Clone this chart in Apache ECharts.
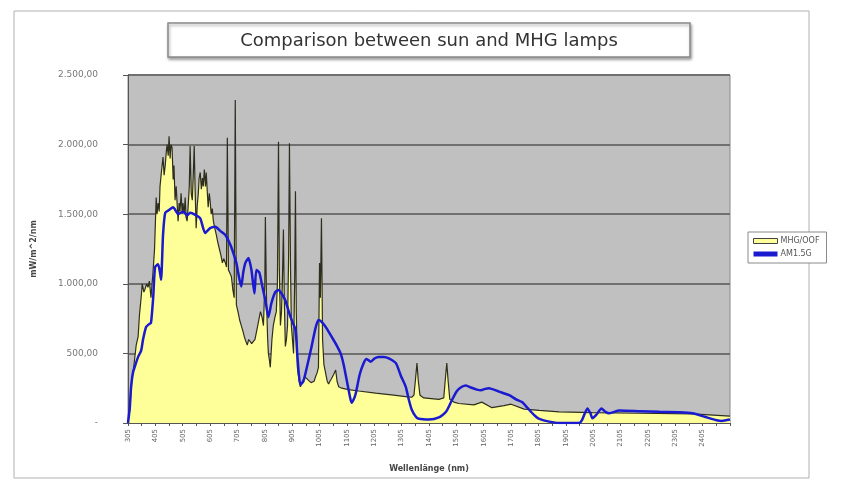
<!DOCTYPE html>
<html>
<head>
<meta charset="utf-8">
<script src="https://cdn.jsdelivr.net/npm/echarts@6/dist/echarts.min.js"></script>
<style>html,body{margin:0;padding:0;background:#fff;}#c{width:843px;height:484px;}</style>
</head>
<body>
<div id="c"></div>
<script>
const titleText = 'Comparison between sun and MHG lamps';
const xAxisName = 'Wellenlänge (nm)';
const yAxisName = 'mW/m^2/nm';
const seriesNames = ['MHG/OOF', 'AM1.5G'];
const xTickLabels = ['305','405','505','605','705','805','905','1005','1105','1205','1305','1405','1505','1605','1705','1805','1905','2005','2105','2205','2305','2405'];
const yTickLabels = ['-','500,00','1.000,00','1.500,00','2.000,00','2.500,00'];

// MHG lamp spectrum [wavelength nm, mW/m^2/nm]
const mhgData = [
[300,0],[307,100],[311,260],[322,420],[330,560],[337,620],[342,780],[348,900],[352,1000],[355,1010],[358,940],[362,960],
[368,1000],[373,975],[378,1020],[384,900],[388,1000],[392,1100],[397,1250],[403,1620],[406,1500],[410,1580],[414,1520],
[417,1700],[422,1800],[428,1910],[432,1780],[436,1850],[440,1950],[443,2000],[447,1920],[450,2060],[454,1900],[457,2000],
[461,1980],[465,1750],[468,1850],[472,1600],[476,1700],[480,1560],[483,1450],[487,1580],[490,1520],[494,1650],[498,1500],
[501,1580],[505,1500],[509,1620],[512,1480],[516,1450],[520,1560],[524,1700],[527,1990],[531,1650],[535,1600],[538,1750],
[542,1990],[545,1700],[549,1400],[553,1560],[557,1650],[560,1760],[564,1800],[568,1680],[572,1760],[575,1700],[579,1820],
[583,1700],[586,1800],[590,1650],[593,1550],[597,1650],[600,1600],[604,1500],[608,1540],[612,1450],[617,1400],[623,1350],
[628,1300],[634,1250],[640,1200],[645,1150],[650,1180],[656,1150],[660,1120],[663,2050],[667,1100],[672,1080],[678,1050],
[683,960],[688,900],[692,2320],[696,850],[703,790],[708,740],[714,700],[720,660],[725,620],[730,590],[736,560],[741,600],
[747,600],[752,570],[758,560],[764,600],[769,650],[776,720],[784,800],[790,760],[795,700],[800,1000],[802,1480],[806,900],
[810,620],[813,500],[817,450],[820,400],[826,600],[831,700],[837,760],[842,800],[846,1000],[850,2020],[853,1100],[857,700],
[861,800],[864,1000],[868,1390],[871,900],[875,550],[879,600],[883,700],[887,1200],[890,2010],[894,1100],[897,700],
[901,600],[905,500],[909,1000],[912,1665],[915,800],[919,400],[925,300],[930,260],[936,290],[941,300],[947,330],[952,340],
[958,310],[963,300],[969,290],[974,280],[980,300],[985,330],[991,360],[996,400],[1000,1150],[1003,900],[1007,1470],[1011,600],
[1016,420],[1022,360],[1028,300],[1033,280],[1038,300],[1044,320],[1052,350],[1059,380],[1064,300],[1070,260],[1081,250],[1106,240],
[1143,230],[1205,215],[1271,200],[1315,190],[1337,185],[1345,200],[1350,300],[1356,430],[1361,300],[1367,200],[1381,180],[1436,170],
[1454,180],[1459,300],[1465,430],[1470,300],[1476,170],[1491,150],[1509,140],[1564,130],[1593,150],[1630,110],[1674,125],[1700,135],
[1748,100],[1803,90],[1876,80],[1997,75],[2169,70],[2363,65],[2500,50]
];

// AM1.5G solar spectrum [wavelength nm, mW/m^2/nm]
const amData = [
[300,0],[307,120],[311,250],[318,360],[329,430],[337,475],[348,520],[355,600],[366,690],[377,710],
[384,720],[392,900],[399,1120],[410,1140],[417,1080],[421,1030],[428,1350],[436,1510],[450,1530],[465,1550],
[476,1520],[483,1500],[502,1520],[516,1490],[527,1510],[546,1495],[564,1470],[582,1365],[600,1400],[619,1410],
[637,1380],[656,1350],[674,1280],[685,1220],[696,1150],[703,1075],[714,980],[721,1080],[729,1150],[740,1185],
[751,1100],[762,930],[769,1100],[780,1080],[791,980],[802,880],[813,760],[824,860],[838,940],[850,955],
[861,930],[875,880],[894,760],[912,670],[919,480],[930,275],[941,300],[956,420],[971,550],[985,680],
[996,740],[1011,720],[1026,680],[1044,620],[1062,560],[1077,500],[1088,420],[1099,310],[1110,200],[1117,145],
[1125,170],[1132,210],[1147,350],[1161,430],[1172,460],[1187,440],[1202,465],[1216,475],[1235,475],[1253,465],
[1279,430],[1297,340],[1315,260],[1326,170],[1337,95],[1352,45],[1363,30],[1400,25],[1436,40],[1462,80],
[1484,165],[1502,230],[1520,260],[1535,270],[1553,255],[1575,240],[1590,235],[1605,245],[1619,250],[1656,225],
[1693,200],[1718,170],[1740,150],[1759,110],[1773,80],[1788,50],[1803,30],[1839,10],[1876,0],[1949,0],
[1960,25],[1979,105],[1990,70],[1997,35],[2012,60],[2030,105],[2045,80],[2059,70],[2096,90],[2169,85],
[2242,80],[2316,78],[2363,70],[2407,45],[2451,20],[2470,15],[2500,25]
];

const FONT = 'DejaVu Sans';
const chart = echarts.init(document.getElementById('c'));
chart.setOption({
  backgroundColor: '#ffffff',
  animation: false,
  graphic: [
    { type: 'rect', shape: { x: 14, y: 11, width: 795, height: 467 }, style: { fill: 'none', stroke: '#b0b0b0', lineWidth: 1 }, z: -1 },
    { type: 'rect', shape: { x: 168, y: 23, width: 522, height: 34 }, style: { fill: '#ffffff', stroke: '#8a8a8a', lineWidth: 1.5, shadowBlur: 3, shadowColor: 'rgba(0,0,0,0.35)', shadowOffsetX: 1, shadowOffsetY: 2 }, z: 10 },
    { type: 'text', x: 429, y: 41, style: { text: titleText, font: '18px "DejaVu Sans"', fill: '#333', textAlign: 'center', textVerticalAlign: 'middle' }, z: 11 }
  ],
  grid: { left: 128, right: 113, top: 75, bottom: 61, show: true, backgroundColor: '#c0c0c0', borderColor: '#888', borderWidth: 1 },
  legend: {
    orient: 'vertical', left: 748, top: 232,
    itemWidth: 24, itemHeight: 5, itemGap: 5,
    padding: [5, 7, 5, 5],
    borderColor: '#8a8a8a', borderWidth: 1, backgroundColor: '#fff',
    textStyle: { fontFamily: FONT, fontSize: 8, color: '#555', padding: [0, 0, 0, -2] },
    data: [
      { name: seriesNames[0], icon: 'rect', itemStyle: { color: '#ffff99', borderColor: '#444', borderWidth: 1 } },
      { name: seriesNames[1], icon: 'rect', itemStyle: { color: '#1a1ad0' } }
    ]
  },
  xAxis: {
    type: 'value', min: 300, max: 2500, interval: 100,
    name: xAxisName, nameLocation: 'middle', nameGap: 42,
    nameTextStyle: { fontFamily: FONT, fontSize: 8, fontWeight: 'bold', color: '#444' },
    axisLine: { show: true, lineStyle: { color: '#555', width: 1 } },
    axisTick: { show: true, length: 3, lineStyle: { color: '#555' } },
    minorTick: { show: true, splitNumber: 2, length: 3, lineStyle: { color: '#555' } },
    splitLine: { show: false },
    axisLabel: {
      rotate: 90, margin: 6, fontFamily: FONT, fontSize: 7, color: '#666',
      formatter: function (v) { const i = Math.round((v - 300) / 100); return i < xTickLabels.length ? xTickLabels[i] : ''; }
    }
  },
  yAxis: {
    type: 'value', min: 0, max: 2500, interval: 500,
    name: yAxisName, nameLocation: 'middle', nameGap: 90, nameRotate: 90,
    nameTextStyle: { fontFamily: FONT, fontSize: 8, fontWeight: 'bold', color: '#444' },
    axisLine: { show: true, lineStyle: { color: '#555', width: 1 } },
    axisTick: { show: true, length: 5, lineStyle: { color: '#555' } },
    splitLine: { show: true, lineStyle: { color: '#707070', width: 2 } },
    axisLabel: {
      margin: 30, fontFamily: FONT, fontSize: 9, color: '#777',
      formatter: function (v) { return yTickLabels[Math.round(v / 500)]; }
    }
  },
  series: [
    {
      name: seriesNames[0], type: 'line', data: mhgData, showSymbol: false, symbol: 'none',
      lineStyle: { color: '#2e2e20', width: 1.2 },
      itemStyle: { color: '#ffff99', borderColor: '#444' },
      areaStyle: { color: '#ffff99', opacity: 1 },
      z: 2
    },
    {
      name: seriesNames[1], type: 'line', data: amData, showSymbol: false, symbol: 'none', smooth: 0.2,
      lineStyle: { color: '#1a1ad0', width: 2.5 },
      itemStyle: { color: '#1a1ad0' },
      z: 3
    }
  ]
});
</script>
</body>
</html>
